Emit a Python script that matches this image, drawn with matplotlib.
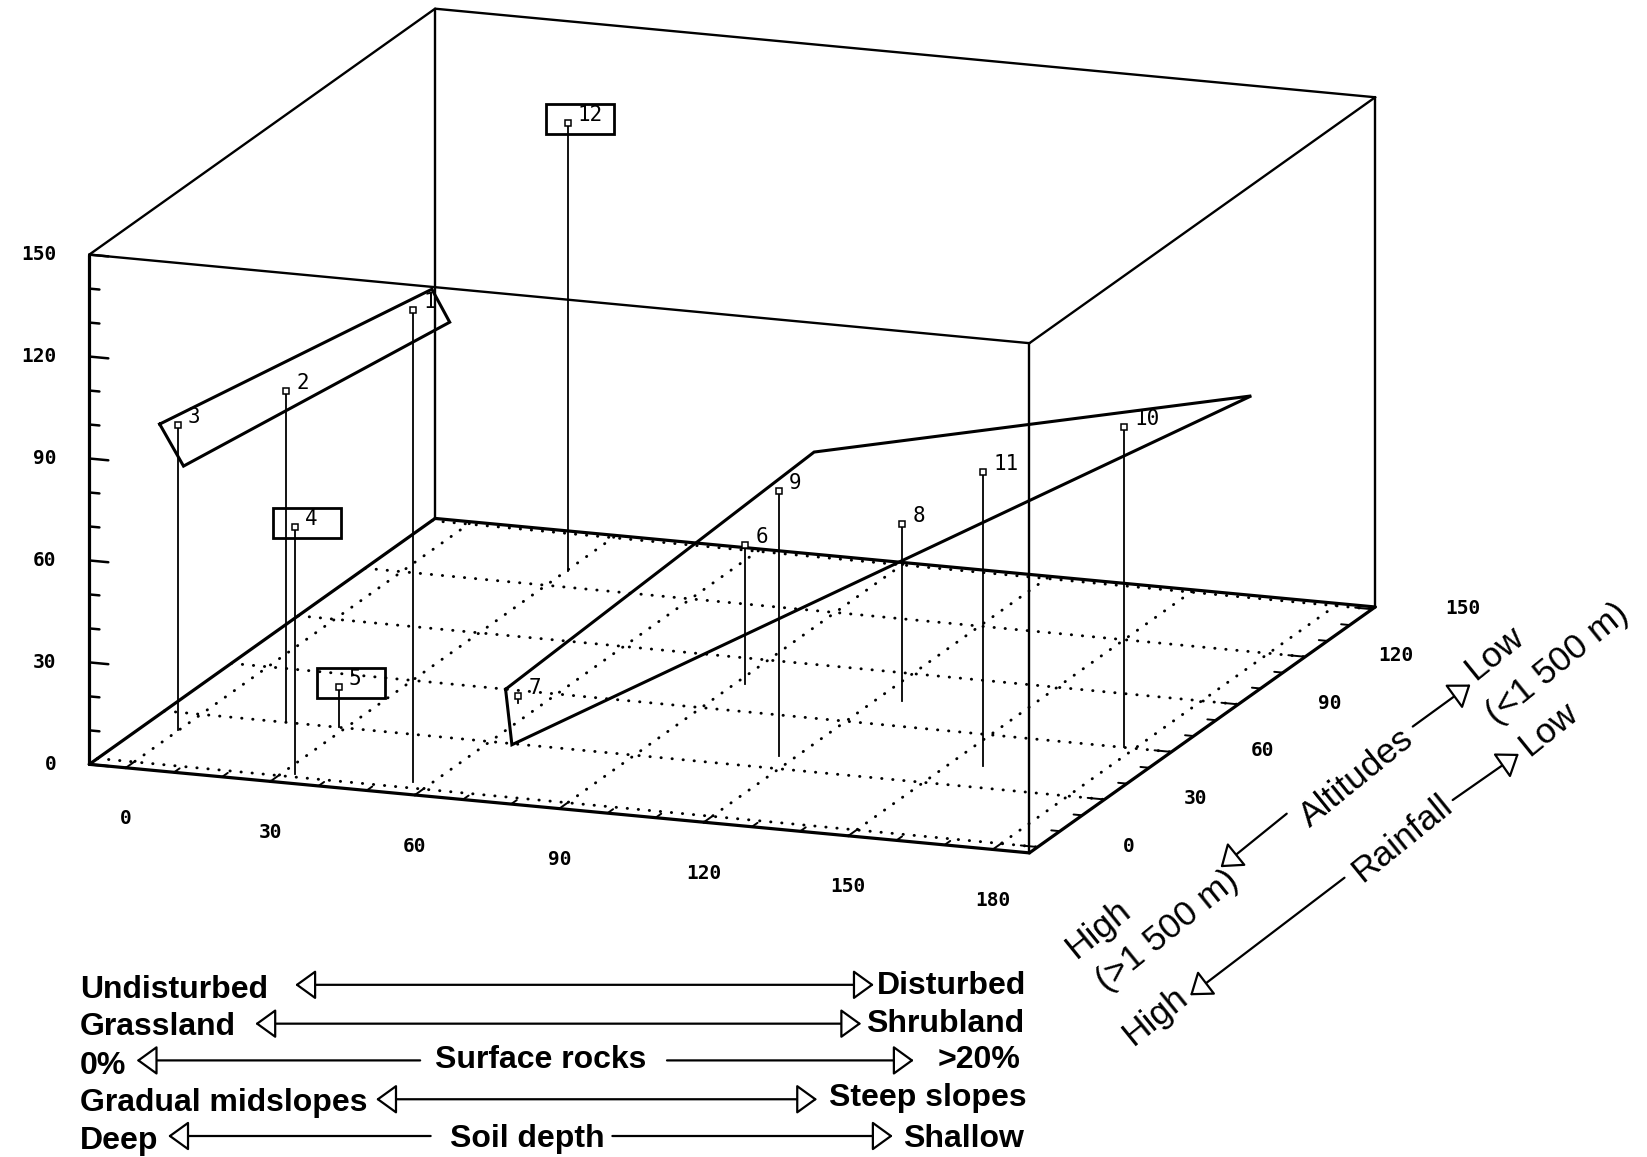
import matplotlib
matplotlib.use("Agg")
import matplotlib.pyplot as plt
import numpy as np
from matplotlib.patches import FancyArrowPatch, Rectangle

W, H = 1647, 1157
REF_W, REF_H = 1568, 1102  # layout below was measured on a 1568 px wide copy

# site scores
site_ids = [1, 2, 3, 4, 5, 6, 7, 8, 9, 10, 11, 12]
axis1 = [56.4, 17.6, -0.3, 32.6, 28.6, 92.0, 55.3, 125.1, 116.7, 177.8, 156.8, 30.3]
axis2 = [3.3, 30.1, 20.3, 1.8, 30.0, 75.4, 52.9, 74.3, 37.2, 60.1, 42.1, 129.0]
axis3 = [139.0, 97.4, 89.7, 72.7, 11.8, 41.0, 2.0, 52.0, 78.0, 94.3, 86.6, 132.0]
boxed_sites = [12, 4, 5]

# the two group outlines (corner scores)
group_a_x = [-4.0, 60.2, 63.9, 0.95, -4.0]
group_a_y = [20.1, 3.5, 3.5, 20.1, 20.1]
group_a_z = [89.5, 145.5, 136.3, 77.8, 89.5]
group_b_x = [50.6, 99.8, 185.8, 65.8, 50.6]
group_b_y = [57.3, 89.4, 99.7, 27.3, 57.3]
group_b_z = [1.4, 62.8, 86.0, 1.1, 1.4]

x_ticks = [0, 30, 60, 90, 120, 150, 180]
y_ticks = [0, 30, 60, 90, 120, 150]
z_ticks = [0, 30, 60, 90, 120, 150]
X_LIM = (-7.6, 187.6)
Y_LIM = (-3.7, 151.4)
Z_LIM = (0.0, 150.0)

MONO = "DejaVu Sans Mono"
SANS = "Liberation Sans"


def ref_px(x, y):
    """reference pixel (y down) -> figure pixel (y up)"""
    return x * W / REF_W, H - y * H / REF_H


def ref_frac(x, y):
    return x / REF_W, 1 - y / REF_H


fig = plt.figure(figsize=(W / 100, H / 100), dpi=100)
ax = fig.add_axes([0.05, 0.25, 0.6, 0.6 * W / H], projection="3d", proj_type="ortho")
ax.view_init(elev=15, azim=-70)
ax.set_box_aspect((951.9, 962.0, 502.1))
ax.set_xlim(*X_LIM)
ax.set_ylim(*Y_LIM)
ax.set_zlim(*Z_LIM)
ax.set_axis_off()

x0, x1 = X_LIM
y0, y1 = Y_LIM
z0, z1 = Z_LIM


def seg(p, q, lw=1.6, **kw):
    ax.plot([p[0], q[0]], [p[1], q[1]], [p[2], q[2]], color="black", lw=lw,
            solid_capstyle="round", **kw)


# box: floor heavier than the rest
for p, q in [((x0, y0, z0), (x1, y0, z0)), ((x1, y0, z0), (x1, y1, z0)),
             ((x0, y0, z0), (x0, y1, z0)), ((x0, y1, z0), (x1, y1, z0))]:
    seg(p, q, lw=2.3)
seg((x0, y0, z0), (x0, y0, z1), lw=2.3)
for p, q in [((x1, y0, z0), (x1, y0, z1)), ((x0, y1, z0), (x0, y1, z1)),
             ((x1, y1, z0), (x1, y1, z1)), ((x0, y0, z1), (x1, y0, z1)),
             ((x1, y0, z1), (x1, y1, z1)), ((x1, y1, z1), (x0, y1, z1)),
             ((x0, y1, z1), (x0, y0, z1))]:
    seg(p, q, lw=1.7)

# dotted floor grid
dots = dict(color="black", lw=2.1, linestyle=(0, (0.1, 3.7)), dash_capstyle="round")
for xt in x_ticks:
    ax.plot([xt, xt], [y0, y1], [0, 0], **dots)
for yt in y_ticks:
    ax.plot([x0, x1], [yt, yt], [0, 0], **dots)

# tick marks, major every 30 and minor every 10
for z in range(0, 151, 10):
    seg((x0, y0, z), (x0 + (3.95 if z % 30 == 0 else 2.1), y0, z), lw=1.8)
for x in range(0, 181, 10):
    seg((x, y0, 0), (x, y0 + (4.0 if x % 30 == 0 else 2.5), 0), lw=1.4)
for y in range(0, 151, 10):
    seg((x1 - (3.5 if y % 30 == 0 else 1.8), y, 0), (x1, y, 0), lw=1.4)

# group outlines
ax.plot(group_a_x, group_a_y, group_a_z, color="black", lw=2.2, solid_joinstyle="miter")
ax.plot(group_b_x, group_b_y, group_b_z, color="black", lw=2.2, solid_joinstyle="miter")

# stems and markers
for sx, sy, sz in zip(axis1, axis2, axis3):
    ax.plot([sx, sx], [sy, sy], [0, sz], color="black", lw=1.3)
ax.plot(axis1, axis2, axis3, ls="none", marker="s", ms=3.8, mfc="white",
        mec="black", mew=1.1)

# fit the projected box onto the reference frame
fig.canvas.draw()


def screen(x, y, z):
    v = ax.M @ np.array([x, y, z, 1.0])
    return ax.transData.transform((v[0] / v[3], v[1] / v[3]))


a = screen(x0, y0, z0)
b = screen(x1, y1, z1)
ta = np.array(ref_px(85, 728))
tb = np.array(ref_px(1308, 92))
k = np.mean((tb - ta) / (b - a))
pos = ax.get_position()
left, bottom = pos.x0 * W, pos.y0 * H
width, height = pos.width * W, pos.height * H
new_left = ta[0] - k * (a[0] - left)
new_bottom = ta[1] - k * (a[1] - bottom)
ax.set_position([new_left / W, new_bottom / H, k * width / W, k * height / H])
fig.canvas.draw()


def label_at(x, y, z, s, dx, dy, **kw):
    px, py = screen(x, y, z)
    fig.text((px + dx) / W, (py + dy) / H, s, **kw)


tick_font = dict(family=MONO, fontweight="bold", fontsize=14)
for zt in z_ticks:
    label_at(x0, y0, zt, str(zt), -33, 0, ha="right", va="center", **tick_font)
for xt in x_ticks:
    label_at(xt, y0, 0, str(xt), 0, -51, ha="center", va="center", **tick_font)
for yt in y_ticks:
    label_at(x1, yt, 0, str(yt), 91, 1, ha="center", va="center", **tick_font)

for sid, sx, sy, sz in zip(site_ids, axis1, axis2, axis3):
    label_at(sx, sy, sz, str(sid), 10, -2, ha="left", va="bottom",
             family=MONO, fontsize=15)

# label frames around a few sites
for sid in boxed_sites:
    i = site_ids.index(sid)
    px, py = screen(axis1[i], axis2[i], axis3[i])
    fig.add_artist(Rectangle((px - 22, py - 11), 68, 30, transform=None,
                             fill=False, ec="black", lw=2.0))

# gradient legend under the plot
bold = dict(family=SANS, fontweight="bold", fontsize=23)
arrow_kw = dict(transform=fig.transFigure, mutation_scale=20, fc="white",
                ec="black", lw=1.6, shrinkA=0, shrinkB=0)


def arrow(xa, ya, xb, yb, style):
    fig.add_artist(FancyArrowPatch(ref_frac(xa, ya), ref_frac(xb, yb),
                                   arrowstyle=style, **arrow_kw))


both = "<|-|>,head_length=0.65,head_width=0.47"
one = "-|>,head_length=0.65,head_width=0.47"

fig.text(*ref_frac(76, 951), "Undisturbed", ha="left", va="baseline", **bold)
fig.text(*ref_frac(977, 947), "Disturbed", ha="right", va="baseline", **bold)
arrow(281, 938, 832, 938, both)

fig.text(*ref_frac(76, 986), "Grassland", ha="left", va="baseline", **bold)
fig.text(*ref_frac(975, 983), "Shrubland", ha="right", va="baseline", **bold)
arrow(243, 975, 820, 975, both)

fig.text(*ref_frac(76, 1023), "0%", ha="left", va="baseline", **bold)
fig.text(*ref_frac(515, 1017), "Surface rocks", ha="center", va="baseline", **bold)
fig.text(*ref_frac(972, 1017), ">20%", ha="right", va="baseline", **bold)
arrow(400, 1010, 130, 1010, one)
arrow(635, 1010, 870, 1010, one)

fig.text(*ref_frac(76, 1058), "Gradual midslopes", ha="left", va="baseline", **bold)
fig.text(*ref_frac(977, 1053), "Steep slopes", ha="right", va="baseline", **bold)
arrow(358, 1047, 778, 1047, both)

fig.text(*ref_frac(76, 1094), "Deep", ha="left", va="baseline", **bold)
fig.text(*ref_frac(502, 1092), "Soil depth", ha="center", va="baseline", **bold)
fig.text(*ref_frac(975, 1092), "Shallow", ha="right", va="baseline", **bold)
arrow(410, 1082, 160, 1082, one)
arrow(583, 1082, 850, 1082, one)

# altitude / rainfall gradients along the depth axis
slant = dict(family=SANS, fontsize=25.5, rotation=39, rotation_mode="anchor",
             ha="center", va="center")
fig.text(*ref_frac(1423, 622), "Low", **slant)
fig.text(*ref_frac(1483, 632), "(<1 500 m)", **slant)
fig.text(*ref_frac(1292, 741), "Altitudes", **slant)
fig.text(*ref_frac(1045, 885), "High", **slant)
fig.text(*ref_frac(1112, 887), "(>1 500 m)", **slant)
fig.text(*ref_frac(1335, 799), "Rainfall", **slant)
fig.text(*ref_frac(1474, 695), "Low", **slant)
fig.text(*ref_frac(1100, 968), "High", **slant)
arrow(1345, 692, 1400, 652, one)
arrow(1225, 775, 1162, 826, one)
arrow(1383, 762, 1446, 718, one)
arrow(1280, 836, 1133, 948, one)

fig.savefig("out.png", dpi=100, facecolor="white")
